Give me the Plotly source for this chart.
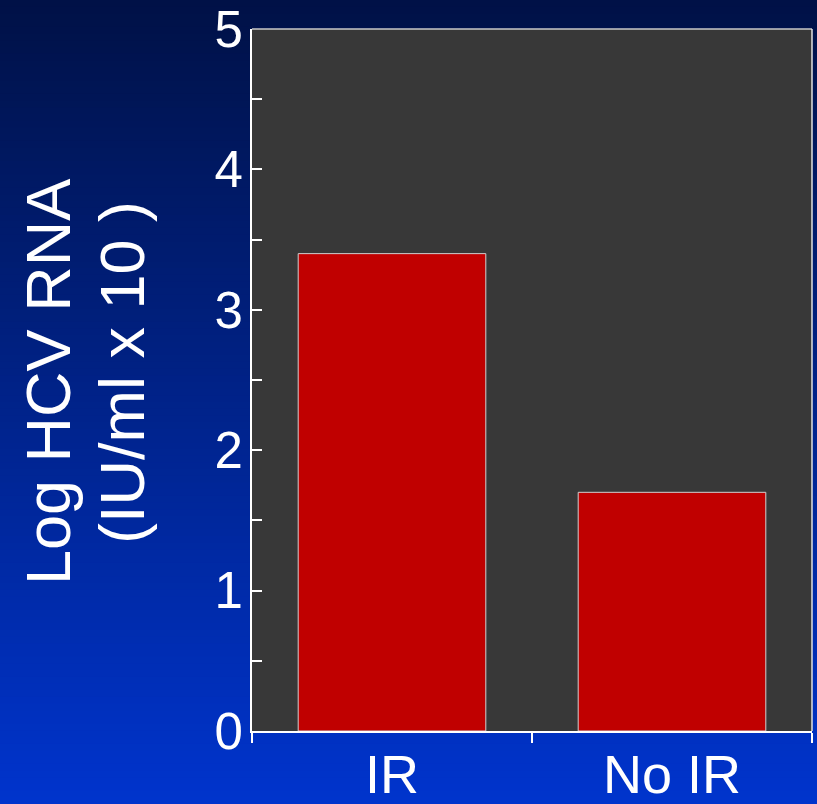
import plotly.graph_objects as go

categories = ["IR", "No IR"]
values = [3.4, 1.7]
y_tickvals = [0, 1, 2, 3, 4, 5]
y_title_line1 = "Log HCV RNA"
y_title_line2 = "(IU/ml x 10 )"

W, H = 817, 804
L, R, T, B = 252, 5, 29, 73
pw = W - L - R
ph = H - T - B

fig = go.Figure(
    go.Bar(
        x=categories,
        y=values,
        width=0.67,
        marker=dict(color="#c00000", line=dict(color="#d0d0d0", width=1)),
    )
)

# background gradient (page-wide strips)
top_rgb = (0, 17, 70)
bot_rgb = (0, 52, 205)
N = 120
shapes = []
for i in range(N):
    py0 = i * H / N - (10 if i == 0 else 0)
    py1 = (i + 1) * H / N + (10 if i == N - 1 else 1)
    t = (i + 0.5) / N
    c = tuple(int(round(top_rgb[k] + (bot_rgb[k] - top_rgb[k]) * t)) for k in range(3))
    shapes.append(dict(
        type="rect", xref="paper", yref="paper",
        x0=-1, x1=2,
        y0=(H - B - py1) / ph, y1=(H - B - py0) / ph,
        fillcolor="rgb(%d,%d,%d)" % c, line=dict(width=0), layer="below",
    ))
# plot area background
shapes.append(dict(type="rect", xref="paper", yref="paper", x0=0, x1=1, y0=0, y1=1,
                   fillcolor="#383838", line=dict(width=0), layer="below"))
# top and right border
shapes.append(dict(type="line", xref="paper", yref="paper", x0=0, x1=1, y0=1, y1=1,
                   line=dict(color="#c8c8c8", width=1.5), layer="above"))
shapes.append(dict(type="line", xref="paper", yref="paper", x0=1, x1=1, y0=0, y1=1,
                   line=dict(color="#e0e0e0", width=1.5), layer="above"))

font = "Liberation Sans, Arial, sans-serif"

fig.update_layout(
    width=W, height=H,
    margin=dict(l=L, r=R, t=T, b=B, pad=0),
    paper_bgcolor="rgb(0,52,205)",
    plot_bgcolor="rgba(0,0,0,0)",
    showlegend=False,
    shapes=shapes,
    xaxis=dict(
        range=[-0.5, 1.5],
        automargin=False,
        tickson="boundaries",
        ticks="outside", ticklen=10, tickwidth=1.5, tickcolor="white",
        showline=True, linecolor="white", linewidth=2,
        showgrid=False, zeroline=False,
        tickfont=dict(family=font, size=54, color="white"),
        ticklabelstandoff=-5,
    ),
    yaxis=dict(
        range=[0, 5],
        automargin=False,
        tickvals=y_tickvals,
        ticks="inside", ticklen=10, tickwidth=1.5, tickcolor="white",
        minor=dict(dtick=0.5, ticks="inside", ticklen=10, tickwidth=1.5, tickcolor="white", showgrid=False),
        showline=True, linecolor="white", linewidth=2,
        showgrid=False, zeroline=False,
        tickfont=dict(family=font, size=51, color="white"),
        ticklabelstandoff=-3,
    ),
    annotations=[
        dict(text=y_title_line1, textangle=-90, xref="paper", yref="paper",
             x=(48 - L) / pw, y=(H - B - 382) / ph, xanchor="center", yanchor="middle",
             showarrow=False, font=dict(family=font, size=63, color="white")),
        dict(text=y_title_line2, textangle=-90, xref="paper", yref="paper",
             x=(122 - L) / pw, y=(H - B - 373) / ph, xanchor="center", yanchor="middle",
             showarrow=False, font=dict(family=font, size=63, color="white")),
    ],
)

fig.write_html(
    "out.html",
    config={"displayModeBar": False},
    post_script="document.body.style.margin='0px';document.body.style.overflow='hidden';",
)
